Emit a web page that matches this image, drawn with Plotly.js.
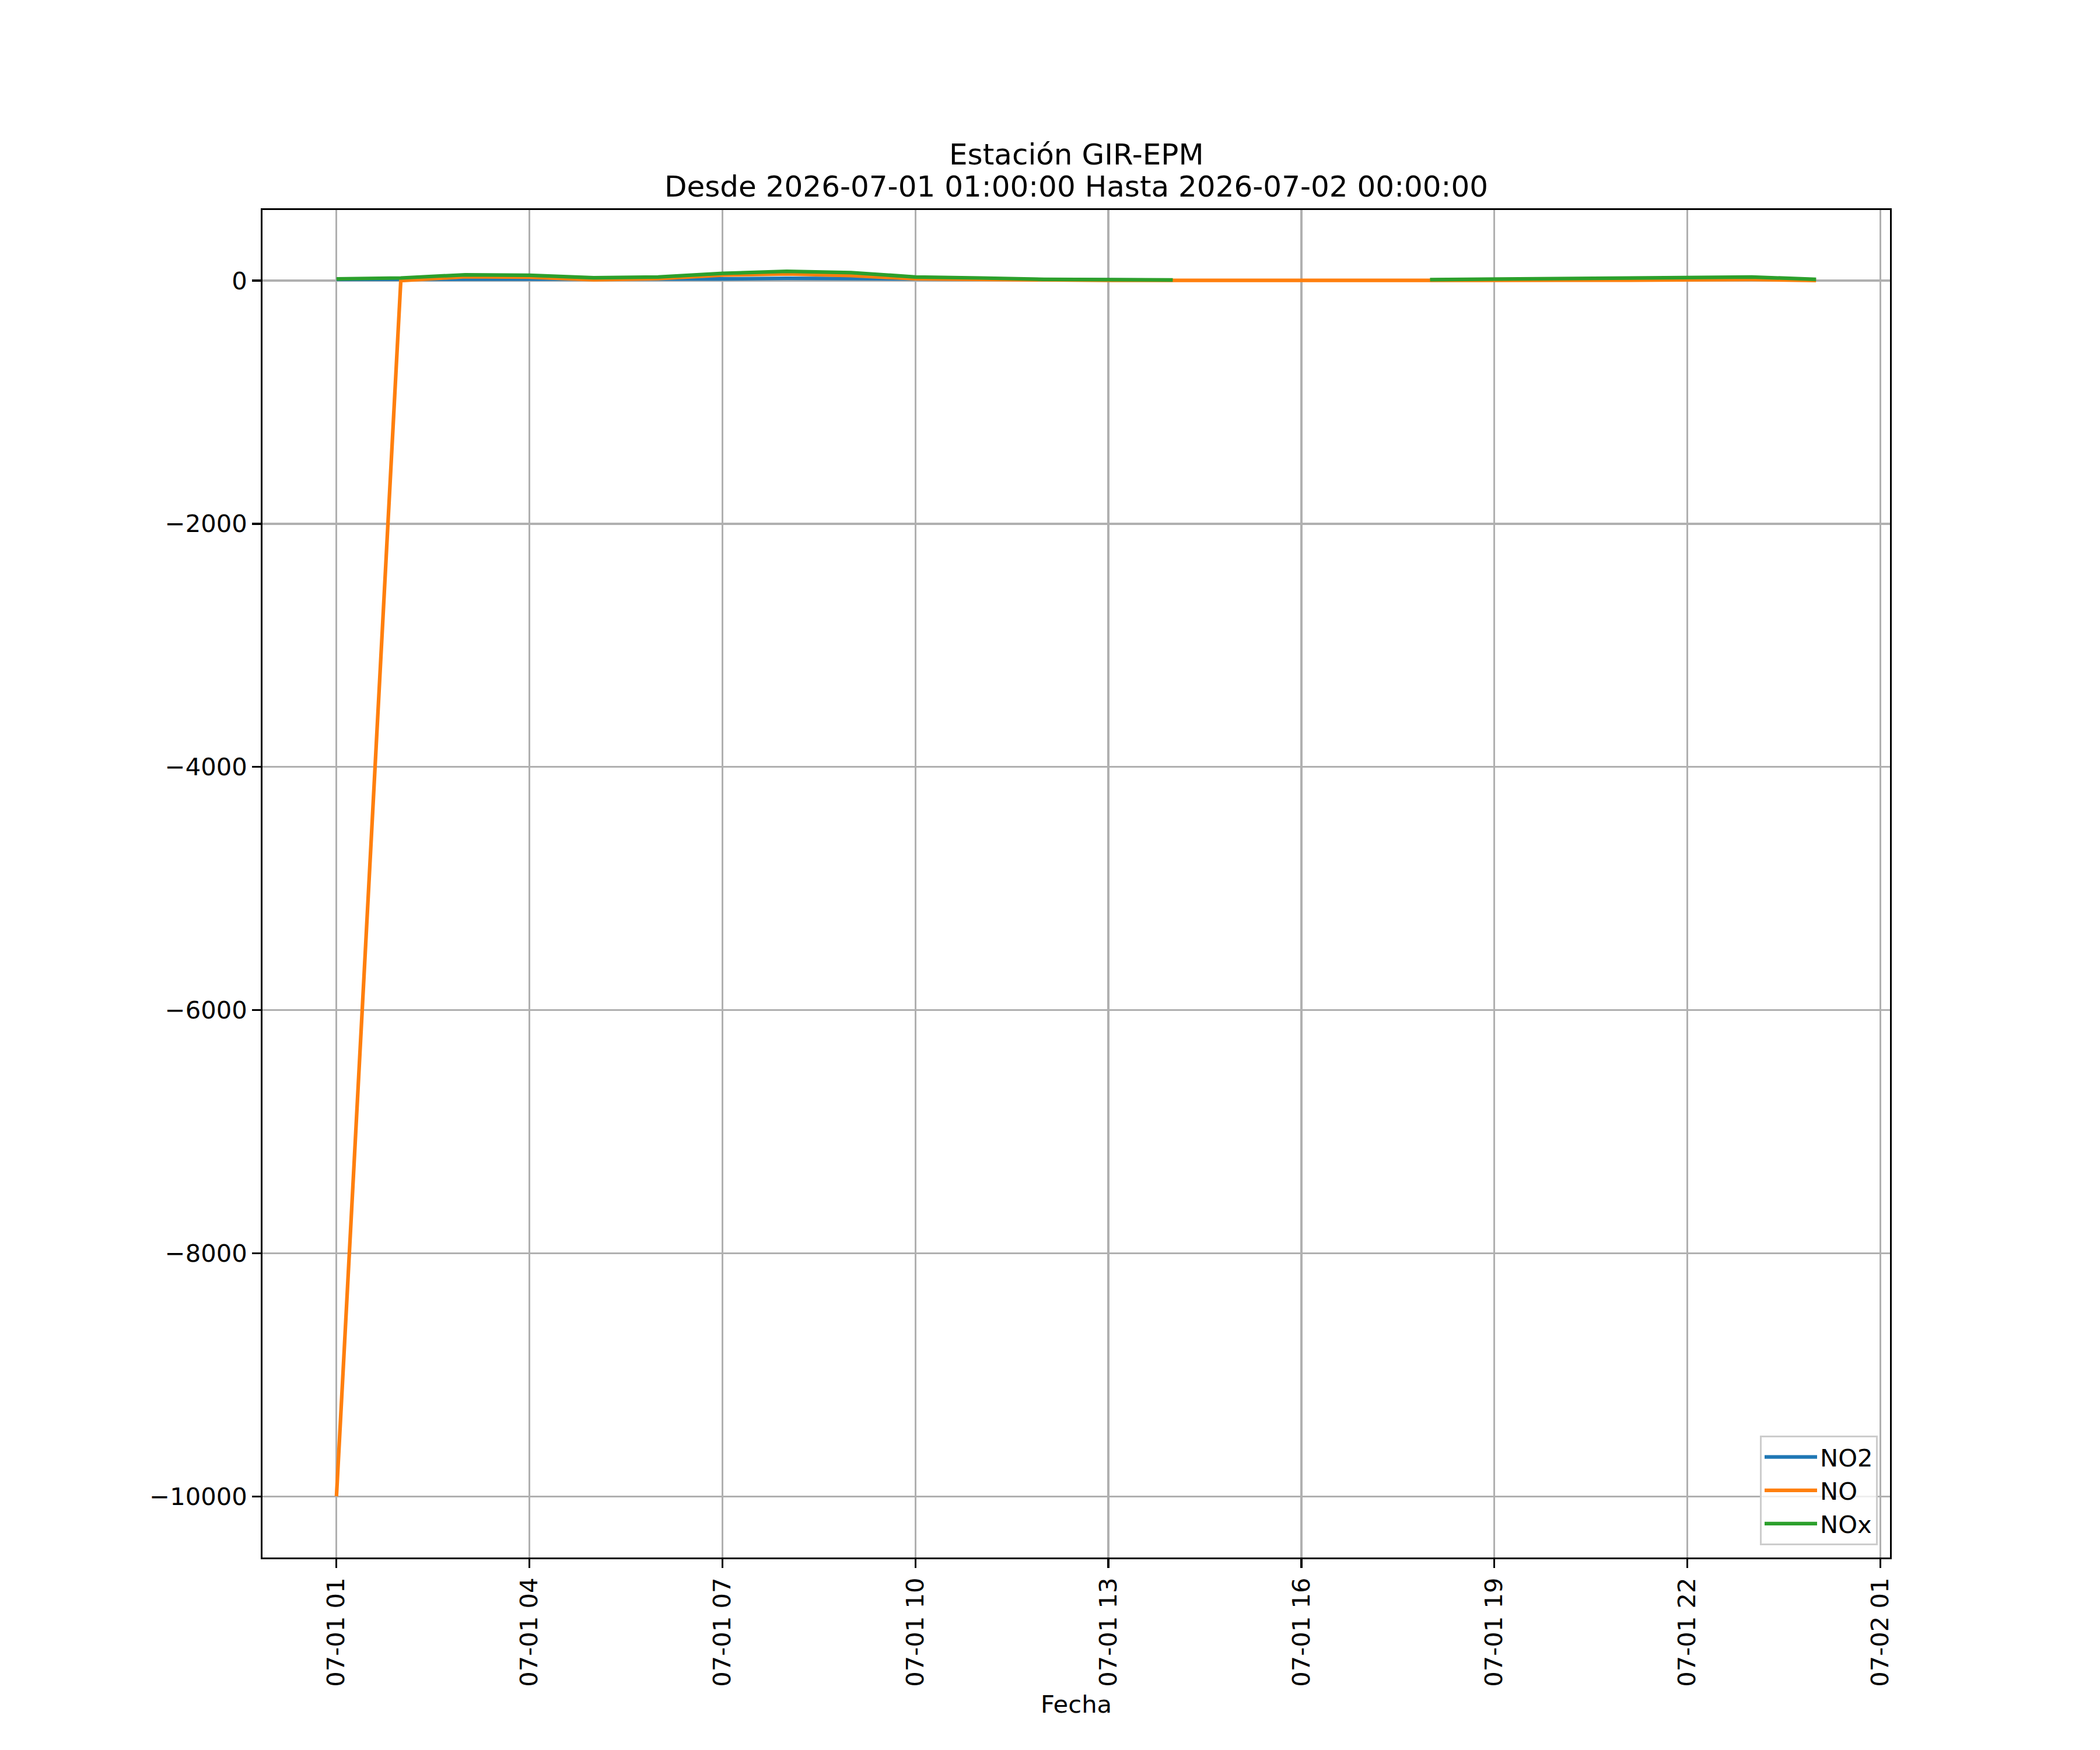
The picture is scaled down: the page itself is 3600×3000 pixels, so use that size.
<!DOCTYPE html>
<html>
<head>
<meta charset="utf-8">
<script src="https://cdn.plot.ly/plotly-3.0.1.min.js"></script>
<style>
  html, body { margin: 0; padding: 0; background: #ffffff; }
  #chart { width: 3600px; height: 3000px; }
</style>
</head>
<body>
<div id="chart"></div>
<script>
// Hourly timestamps (2026-07-01 01:00 to 2026-07-02 00:00)
const fechas = [
  "2026-07-01 01:00", "2026-07-01 02:00", "2026-07-01 03:00", "2026-07-01 04:00",
  "2026-07-01 05:00", "2026-07-01 06:00", "2026-07-01 07:00", "2026-07-01 08:00",
  "2026-07-01 09:00", "2026-07-01 10:00", "2026-07-01 11:00", "2026-07-01 12:00",
  "2026-07-01 13:00", "2026-07-01 14:00", "2026-07-01 15:00", "2026-07-01 16:00",
  "2026-07-01 17:00", "2026-07-01 18:00", "2026-07-01 19:00", "2026-07-01 20:00",
  "2026-07-01 21:00", "2026-07-01 22:00", "2026-07-01 23:00", "2026-07-02 00:00"
];

const no2 = [11, 12, 12, 10, 10, 9, 14, 19, 17, 8, 7, 5, 5, 4, null, null, null, 5, 8, 15, 20, 20, 20, 8];
const no  = [-9999, 0, 32, 28, 7, 17, 45, 55, 42, 15, 10, 4, 2, 2, 1, 1, 2, 3, 2, 3, 3, 3, 9, 1];
const nox = [14, 22, 48, 44, 24, 30, 60, 76, 66, 30, 22, 11, 8, 6, null, null, null, 8, 12, 19, 24, 24, 30, 11];

const seriesNames = ["NO2", "NO", "NOx"];
const seriesColors = ["#1f77b4", "#ff7f0e", "#2ca02c"];

const xTickVals = [
  "2026-07-01 01:00", "2026-07-01 04:00", "2026-07-01 07:00", "2026-07-01 10:00",
  "2026-07-01 13:00", "2026-07-01 16:00", "2026-07-01 19:00", "2026-07-01 22:00",
  "2026-07-02 01:00"
];
const xTickText = ["07-01 01", "07-01 04", "07-01 07", "07-01 10", "07-01 13",
                   "07-01 16", "07-01 19", "07-01 22", "07-02 01"];
const yTickVals = [0, -2000, -4000, -6000, -8000, -10000];
const yTickText = ["0", "\u22122000", "\u22124000", "\u22126000", "\u22128000", "\u221210000"];

const titleLine1 = "Estación GIR-EPM";
const titleLine2 = "Desde 2026-07-01 01:00:00 Hasta 2026-07-02 00:00:00";
const xLabel = "Fecha";

const FONT = "DejaVu Sans, Liberation Sans, sans-serif";
const PT = 300 / 72;  // px per point at 300 dpi

const ys = [no2, no, nox];
const traces = ys.map((y, i) => ({
  type: "scatter",
  mode: "lines",
  x: fechas,
  y: y,
  name: seriesNames[i],
  line: { color: seriesColors[i], width: 1.5 * PT },
  connectgaps: false
}));

const titleFont = { family: FONT, size: 12 * PT, color: "#000000" };

const layout = {
  width: 3600,
  height: 3000,
  paper_bgcolor: "#ffffff",
  plot_bgcolor: "#ffffff",
  font: { family: FONT, size: 10 * PT, color: "#000000" },
  margin: { l: 450, r: 360, t: 360, b: 330, pad: 0 },
  showlegend: true,
  annotations: [
    { text: titleLine1, xref: "paper", yref: "paper", x: 0.5, y: 1,
      xanchor: "center", yanchor: "middle", yshift: 95, showarrow: false, font: titleFont },
    { text: titleLine2, xref: "paper", yref: "paper", x: 0.5, y: 1,
      xanchor: "center", yanchor: "middle", yshift: 40, showarrow: false, font: titleFont }
  ],
  xaxis: {
    type: "date",
    range: ["2026-06-30 23:51", "2026-07-02 01:09"],
    tickmode: "array",
    tickvals: xTickVals,
    ticktext: xTickText,
    tickangle: -90,
    ticks: "outside",
    ticklen: 3.5 * PT,
    tickwidth: 0.8 * PT,
    tickcolor: "#000000",
    ticklabelstandoff: 3.5 * PT,
    tickfont: { family: FONT, size: 10 * PT, color: "#000000" },
    showgrid: true,
    gridcolor: "#b0b0b0",
    gridwidth: 0.8 * PT,
    zeroline: false,
    showline: true,
    mirror: true,
    linecolor: "#000000",
    linewidth: 0.8 * PT,
    title: {
      text: xLabel,
      font: { family: FONT, size: 10 * PT, color: "#000000" },
      standoff: 4 * PT
    }
  },
  yaxis: {
    range: [-10503, 581],
    tickmode: "array",
    tickvals: yTickVals,
    ticktext: yTickText,
    ticks: "outside",
    ticklen: 3.5 * PT,
    tickwidth: 0.8 * PT,
    tickcolor: "#000000",
    ticklabelstandoff: 3.5 * PT,
    tickfont: { family: FONT, size: 10 * PT, color: "#000000" },
    showgrid: true,
    gridcolor: "#b0b0b0",
    gridwidth: 0.8 * PT,
    zeroline: false,
    showline: true,
    mirror: true,
    linecolor: "#000000",
    linewidth: 0.8 * PT
  },
  legend: {
    x: 1 - 21 / 2790,
    y: 21 / 2310,
    xanchor: "right",
    yanchor: "bottom",
    bgcolor: "rgba(255,255,255,0.8)",
    bordercolor: "#cccccc",
    borderwidth: 3,
    font: { family: FONT, size: 10 * PT, color: "#000000" },
    itemwidth: 90,
    tracegroupgap: 0
  }
};

Plotly.newPlot("chart", traces, layout, { staticPlot: true, displayModeBar: false });
</script>
</body>
</html>
